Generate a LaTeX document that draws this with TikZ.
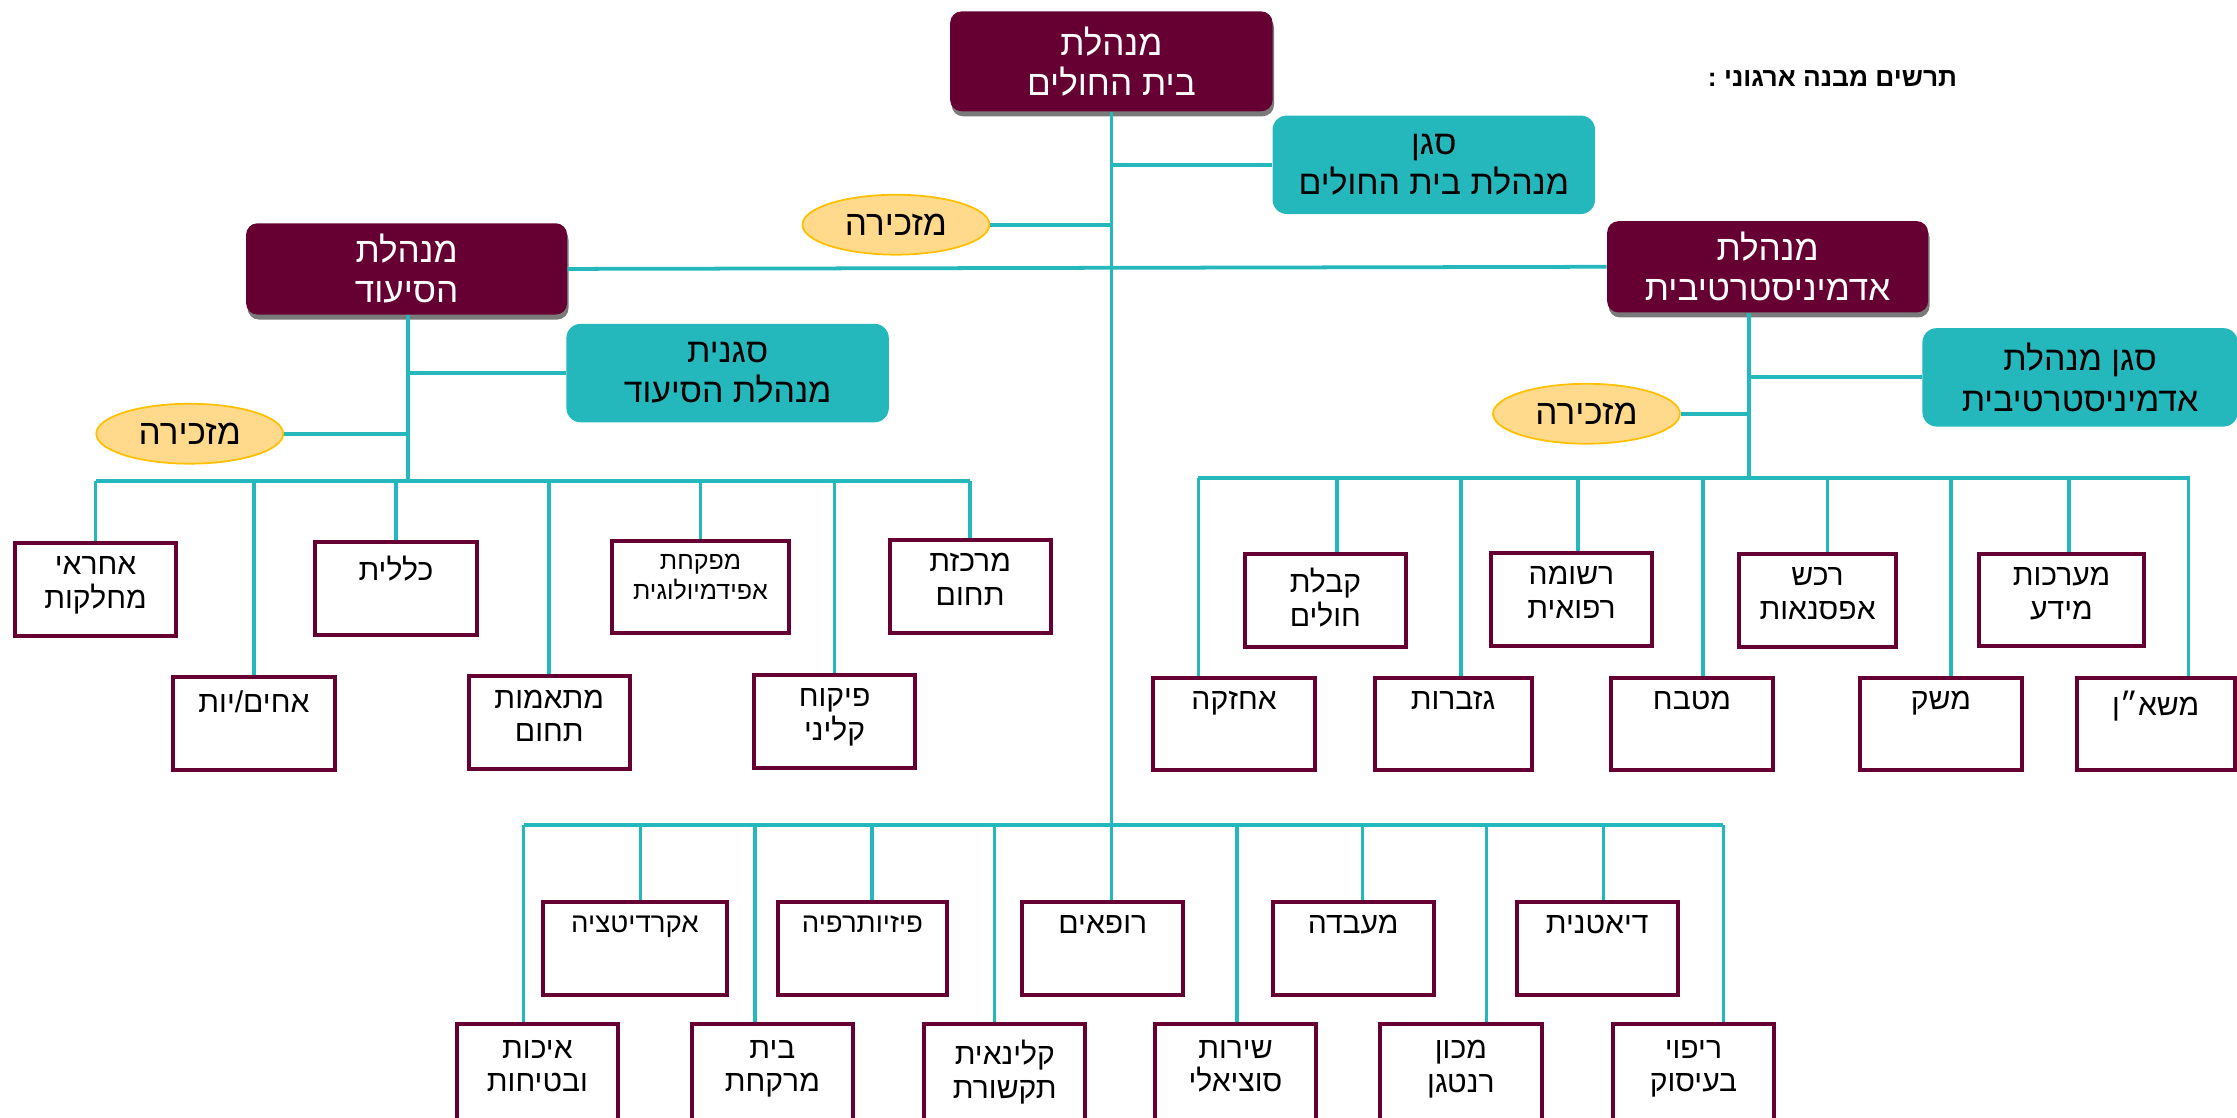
\documentclass[tikz,border=0pt]{standalone}
\usepackage{fontspec}
\newfontfamily\hebfont[Script=Hebrew]{Liberation Sans}
\TeXXeTstate=1
\usetikzlibrary{shapes.geometric,shadows}
\definecolor{orgMaroon}{RGB}{102,0,51}
\definecolor{orgTeal}{RGB}{36,184,188}
\definecolor{orgSand}{RGB}{255,217,140}
\definecolor{orgGold}{RGB}{255,192,0}
\newcommand{\heb}[1]{\beginR#1\endR}
\newcommand{\unitlbl}[1]{\parbox[c][12.4mm][t]{22mm}{\centering\vskip1.6mm #1}}
\tikzstyle{orgLine} = [draw=orgTeal, line width=1.5pt]
\tikzstyle{headBox} = [shape=rectangle, fill=orgMaroon, text=white, align=center,
	rounded corners=1.6mm, minimum width=45mm, minimum height=12.8mm,
	font=\hebfont\fontsize{14}{16}\selectfont,
	drop shadow={shadow xshift=0.2mm, shadow yshift=-0.7mm, fill=black!65, opacity=0.8}]
\tikzstyle{deputyBox} = [shape=rectangle, fill=orgTeal, text=black, align=center,
	rounded corners=2mm, minimum width=45.2mm, minimum height=13.8mm,
	font=\hebfont\fontsize{13.5}{16}\selectfont]
\tikzstyle{secBubble} = [shape=ellipse, fill=orgSand, draw=orgGold, line width=0.7pt,
	minimum width=26.2mm, minimum height=8.4mm, inner sep=0pt,
	font=\hebfont\fontsize{14}{16}\selectfont]
\tikzstyle{unitBox} = [shape=rectangle, draw=orgMaroon, line width=1.6pt, fill=white,
	inner sep=0pt, minimum width=22.6mm, minimum height=13mm,
	font=\hebfont\fontsize{12}{13.5}\selectfont]

\begin{document}
\begin{tikzpicture}[x=0.2mm, y=-0.2mm]
  \useasboundingbox (0,0) rectangle (1568,783);
  \node[anchor=east, font=\hebfont\bfseries\fontsize{10.5}{12}\selectfont] (chartTitle)
  	at (1378,55) {\heb{תרשים מבנה ארגוני :}};

  \node[headBox, minimum width=45.2mm, minimum height=14mm] (ceo) at (779,43)
  	{\heb{מנהלת}\\\heb{בית החולים}};
  \node[deputyBox] (depCeo) at (1005,115.5) {\heb{סגן}\\\heb{מנהלת בית החולים}};
  \node[secBubble] (secCeo) at (628,157.5) {\heb{מזכירה}};
  \node[headBox] (nurDir) at (285,188.5) {\heb{מנהלת}\\\heb{הסיעוד}};
  \node[headBox] (admDir) at (1239,187) {\heb{מנהלת}\\\heb{אדמיניסטרטיבית}};
  \node[deputyBox] (depNur) at (510,261.5) {\heb{סגנית}\\\heb{מנהלת הסיעוד}};
  \node[secBubble] (secNur) at (133,304) {\heb{מזכירה}};
  \node[deputyBox, minimum width=44.2mm] (depAdm) at (1458,264.5)
  	{\heb{סגן מנהלת}\\\heb{אדמיניסטרטיבית}};
  \node[secBubble] (secAdm) at (1112,290) {\heb{מזכירה}};

  \coordinate (mainBar) at (779,578);
  \coordinate (nurJoint) at (286,337);
  \coordinate (admJoint) at (1226,335);
  \coordinate (nurBarL) at (67,337);   \coordinate (nurBarR) at (680,337);
  \coordinate (admBarL) at (840,335);  \coordinate (admBarR) at (1535,335);
  \coordinate (botBarL) at (367,578);  \coordinate (botBarR) at (1208,578);

  \draw[orgLine] (ceo.south) -- (mainBar);
  \draw[orgLine] (ceo.south |- depCeo.west) -- (depCeo.west);
  \draw[orgLine] (secCeo.east) -- (secCeo.east -| ceo.south);
  \draw[orgLine] (nurDir.east) -- (admDir.west);
  \draw[orgLine] (nurJoint |- nurDir.south) -- (nurJoint);
  \draw[orgLine] (nurJoint |- depNur.west) -- (depNur.west);
  \draw[orgLine] (secNur.east) -- (secNur.east -| nurJoint);
  \draw[orgLine] (admJoint |- admDir.south) -- (admJoint);
  \draw[orgLine] (admJoint |- depAdm.west) -- (depAdm.west);
  \draw[orgLine] (secAdm.east) -- (secAdm.east -| admJoint);
  \draw[orgLine] (nurBarL) -- (nurBarR);
  \draw[orgLine] (admBarL) -- (admBarR);
  \draw[orgLine] (botBarL) -- (botBarR);

  \foreach \n/\x/\y/\w/\lbl in {
  	n1/67/413/22.6/{\heb{אחראי}\\\heb{מחלקות}},
  	n2/178/507/22.6/{\heb{אחים/יות}},
  	n3/277.5/412.5/22.6/{\heb{כללית}},
  	n4/385/506.5/22.6/{\heb{מתאמות}\\\heb{תחום}},
  	n5/491/411.5/24.8/{\fontsize{10}{12}\selectfont\heb{מפקחת}\\\heb{אפידמיולוגית}},
  	n6/585/505.5/22.6/{\heb{פיקוח}\\\heb{קליני}},
  	n7/680/411/22.6/{\heb{מרכזת}\\\heb{תחום}},
  	a1/865/507.5/22.6/{\heb{אחזקה}},
  	a2/929/421/22.6/{\heb{קבלת}\\\heb{חולים}},
  	a3/1018.5/507.5/21.8/{\heb{גזברות}},
  	a4/1101.5/420/22.6/{\heb{רשומה}\\\heb{רפואית}},
  	a5/1186/507.5/22.6/{\heb{מטבח}},
  	a6/1274/421/21.6/{\heb{רכש}\\\heb{אפסנאות}},
  	a7/1360.5/507.5/22.6/{\heb{משק}},
  	a8/1445/420.5/23.2/{\heb{מערכות}\\\heb{מידע}},
  	a9/1511/507.5/22.2/{\heb{משא״ן}},
  	b2/445/664.7/25.8/{\fontsize{11}{13}\selectfont\heb{אקרדיטציה}},
  	b4/604.5/664.7/23.8/{\fontsize{11}{13}\selectfont\heb{פיזיותרפיה}},
  	b6/773/664.7/22.6/{\heb{רופאים}},
  	b8/948.5/664.7/22.6/{\heb{מעבדה}},
  	b10/1119.5/664.7/22.6/{\heb{דיאטנית}}}
  	\node[unitBox, minimum width=\w mm] (\n) at (\x,\y) {\unitlbl{\lbl}};

  \foreach \n/\x/\lbl in {
  	b1/376.7/{\heb{איכות}\\\heb{ובטיחות}},
  	b3/541.4/{\heb{בית}\\\heb{מרקחת}},
  	b5/704.3/{\heb{קלינאית}\\\heb{תקשורת}},
  	b7/866/{\heb{שירות}\\\heb{סוציאלי}},
  	b9/1024/{\heb{מכון}\\\heb{רנטגן}},
  	b11/1187/{\heb{ריפוי}\\\heb{בעיסוק}}}
  	\node[unitBox, minimum height=13.6mm] (\n) at (\x,752) {\unitlbl{\lbl}};

  \foreach \n in {n1,n2,n3,n4,n5,n6,n7}
  	\draw[orgLine] (\n.north |- nurBarL) -- (\n.north);
  \foreach \n/\d in {a1/840,a2/937,a3/1024,a4/1106,a5/1193.5,a6/1281,a7/1367.5,a8/1450,a9/1534}{
  	\coordinate (drop) at (\d,335);
  	\draw[orgLine] (drop) -- (drop |- \n.north);
  }
  \foreach \n/\d in {b1/367,b2/449,b3/529,b4/611,b5/697,b6/779,b7/867,b8/955,b9/1042,b10/1124,b11/1208}{
  	\coordinate (drop) at (\d,578);
  	\draw[orgLine] (drop) -- (drop |- \n.north);
  }
\end{tikzpicture}
\end{document}
